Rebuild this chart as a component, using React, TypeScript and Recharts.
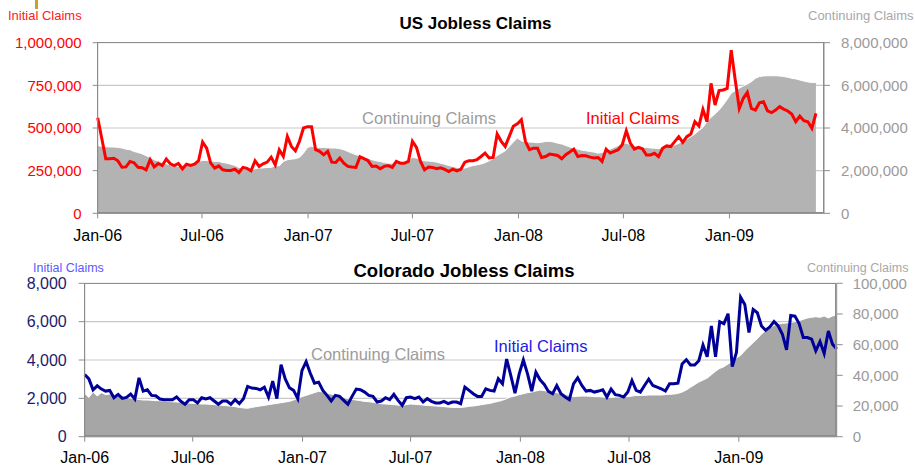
import React from 'react';
import { ComposedChart, Area, Line, XAxis, YAxis, CartesianGrid } from 'recharts';

const START = Date.UTC(2006, 0, 1);
const DAY = 86400000;

// month ticks on the date axis
const tickDates = ['2006-01-01', '2006-07-01', '2007-01-01', '2007-07-01', '2008-01-01', '2008-07-01', '2009-01-01'];
const tickLabels = ['Jan-06', 'Jul-06', 'Jan-07', 'Jul-07', 'Jan-08', 'Jul-08', 'Jan-09'];

// US initial claims, weekly from Jan-06, thousands
const usInitial = [
  560, 440, 320, 320, 323, 308, 270, 272, 304, 296,
  270, 267, 255, 314, 272, 292, 280, 318, 290, 280,
  292, 261, 288, 280, 288, 308, 418, 382, 294, 265,
  278, 255, 251, 251, 259, 239, 269, 263, 249, 308,
  275, 290, 300, 329, 284, 372, 333, 451, 392, 367,
  422, 500, 508, 508, 373, 363, 343, 363, 300, 298,
  324, 294, 275, 271, 269, 331, 320, 308, 275, 277,
  261, 275, 280, 269, 304, 294, 294, 304, 422, 386,
  304, 255, 271, 269, 261, 267, 257, 245, 259, 249,
  258, 300, 308, 308, 314, 333, 353, 324, 327, 465,
  422, 392, 451, 510, 524, 549, 422, 373, 382, 382,
  327, 333, 347, 343, 339, 320, 343, 359, 376, 333,
  339, 337, 329, 324, 327, 304, 376, 353, 363, 373,
  402, 484, 412, 376, 386, 378, 342, 342, 352, 332,
  381, 395, 391, 420, 449, 416, 449, 465, 537, 512,
  609, 537, 762, 635, 719, 723, 732, 957, 781, 615,
  674, 709, 615, 605, 648, 654, 600, 590, 605, 625,
  611, 600, 582, 537, 570, 543, 537, 498, 586,
];

// US continuing claims, weekly, millions
const usContinuing = [
  3.17, 3.14, 3.12, 3.11, 3.11, 3.09, 3.06, 3.01, 2.98, 2.9,
  2.85, 2.79, 2.7, 2.62, 2.51, 2.46, 2.38, 2.32, 2.27, 2.24,
  2.2, 2.2, 2.24, 2.27, 2.34, 2.43, 2.48, 2.48, 2.46, 2.43,
  2.43, 2.38, 2.35, 2.3, 2.24, 2.15, 2.09, 2.05, 2.02, 2.09,
  2.12, 2.13, 2.15, 2.15, 2.24, 2.22, 2.43, 2.51, 2.54, 2.56,
  2.62, 2.82, 3.09, 3.14, 3.09, 3.09, 3.09, 3.07, 3.06, 3.06,
  3.03, 2.98, 2.9, 2.82, 2.75, 2.7, 2.64, 2.59, 2.51, 2.46,
  2.43, 2.38, 2.35, 2.35, 2.38, 2.4, 2.43, 2.49, 2.62, 2.59,
  2.51, 2.46, 2.45, 2.43, 2.4, 2.35, 2.3, 2.24, 2.2, 2.15,
  2.12, 2.12, 2.18, 2.24, 2.27, 2.31, 2.37, 2.46, 2.56, 2.71,
  2.82, 2.93, 3.14, 3.34, 3.53, 3.4, 3.34, 3.34, 3.33, 3.31,
  3.33, 3.37, 3.37, 3.34, 3.29, 3.25, 3.18, 3.11, 3.06, 3.01,
  2.96, 2.93, 2.9, 2.87, 2.82, 2.85, 2.93, 3.01, 3.09, 3.18,
  3.29, 3.29, 3.22, 3.17, 3.14, 3.09, 3.09, 3.06, 3.05, 3.03,
  3.09, 3.13, 3.16, 3.2, 3.28, 3.39, 3.47, 3.59, 3.72, 3.88,
  4.03, 4.3, 4.5, 4.66, 4.84, 5.08, 5.34, 5.63, 5.75, 5.86,
  5.97, 6.06, 6.17, 6.33, 6.41, 6.44, 6.45, 6.45, 6.45, 6.44,
  6.41, 6.38, 6.33, 6.3, 6.25, 6.2, 6.16, 6.13, 6.13,
];

// Colorado initial claims, weekly
const coInitial = [
  3241, 3017, 2448, 2655, 2483, 2379, 2414, 2034, 2207, 2000,
  2052, 2224, 1965, 3069, 2379, 2448, 2155, 2138, 1965, 1931,
  1931, 1931, 2069, 1845, 1690, 1931, 1931, 1759, 2034, 1965,
  2034, 1862, 1690, 1862, 1862, 1690, 1931, 1724, 1983, 2621,
  2534, 2517, 2448, 2586, 2069, 2896, 1983, 3758, 3017, 2552,
  2414, 1983, 3448, 3913, 3310, 2793, 2845, 2414, 2155, 1862,
  2155, 2103, 1896, 1690, 2103, 2483, 2448, 2327, 2155, 2103,
  1810, 1862, 2034, 1931, 2207, 1896, 1638, 2034, 2069, 1983,
  2069, 1810, 1983, 1845, 1759, 1759, 1845, 1724, 1810, 1810,
  1724, 2586, 2414, 2241, 2103, 2103, 2500, 2414, 2379, 3017,
  2758, 4051, 3189, 2276, 3276, 4000, 3276, 2379, 3362, 2965,
  2724, 2362, 2241, 2672, 2241, 2069, 1931, 2758, 3069, 2672,
  2379, 2414, 2327, 2379, 2448, 2069, 2483, 2190, 2155, 2069,
  2327, 2931, 2414, 2327, 2672, 3000, 2672, 2586, 2500, 2379,
  2758, 2758, 2793, 3793, 4017, 3741, 3741, 3965, 4776, 4172,
  5775, 4172, 6000, 5896, 6413, 3655, 4396, 7275, 6896, 5431,
  6637, 6465, 5775, 5551, 5724, 6000, 5775, 5344, 4534, 6327,
  6293, 5896, 5172, 5172, 5086, 4482, 4965, 4344, 5517, 4827,
  4569,
];

// Colorado continuing claims, weekly, thousands
const coContinuing = [
  28.2, 25.6, 29.3, 26.5, 28.7, 27.4, 27.8, 26.1, 26.5, 25.6,
  25.6, 25.2, 24.8, 24.3, 23.9, 23.9, 23.7, 23.5, 23.5, 23.3,
  23.0, 22.8, 22.6, 22.4, 22.2, 21.9, 21.7, 21.5, 21.3, 21.3,
  21.1, 20.9, 20.6, 20.4, 20.2, 20.0, 19.6, 19.1, 18.7, 18.5,
  19.1, 19.6, 20.0, 20.4, 20.9, 21.3, 21.7, 22.2, 22.6, 23.0,
  23.9, 25.0, 26.1, 26.9, 27.8, 28.7, 29.6, 29.1, 28.2, 27.8,
  26.9, 26.1, 25.6, 24.8, 24.3, 23.9, 23.5, 23.0, 22.8, 22.4,
  21.9, 21.5, 21.3, 21.1, 20.9, 20.6, 20.4, 20.9, 21.3, 21.1,
  20.9, 20.6, 20.4, 20.2, 20.0, 19.8, 19.6, 19.3, 19.1, 19.1,
  19.1, 19.3, 19.8, 20.0, 20.4, 20.9, 21.3, 21.7, 22.4, 23.0,
  23.7, 24.8, 25.9, 26.5, 27.4, 28.0, 28.7, 29.1, 29.8, 30.4,
  30.0, 29.6, 29.1, 28.7, 28.0, 27.6, 26.9, 26.1, 26.3, 26.5,
  26.5, 26.3, 26.1, 26.1, 25.9, 25.6, 25.6, 25.9, 25.9, 26.1,
  26.1, 26.5, 26.9, 26.9, 26.9, 27.2, 27.2, 27.2, 27.2, 27.4,
  27.6, 27.8, 28.2, 29.1, 30.4, 32.2, 33.9, 35.6, 36.9, 38.2,
  40.4, 42.6, 44.5, 45.6, 47.4, 48.9, 51.3, 53.0, 56.1, 58.7,
  61.3, 63.9, 66.9, 69.1, 70.8, 72.6, 73.4, 73.9, 74.1, 74.5,
  75.0, 75.6, 76.5, 77.4, 77.8, 78.2, 77.8, 78.7, 77.4, 78.7,
  79.3,
];

const usLeftTicks = [0, 250000, 500000, 750000, 1000000];
const usRightTicks = [0, 2000000, 4000000, 6000000, 8000000];
const coLeftTicks = [0, 2000, 4000, 6000, 8000];
const coRightTicks = [0, 20000, 40000, 60000, 80000, 100000];

const dayTicks = tickDates.map((d) => (Date.parse(d) - START) / DAY);
const dayLabel = (v: number) => tickLabels[dayTicks.indexOf(v)] ?? '';
const fmt = (v: number) => v.toLocaleString('en-US');

const usData = usInitial.map((v, i) => ({ day: i * 7, initial: v * 1000, continuing: Math.round(usContinuing[i] * 1e6) }));
const coData = coInitial.map((v, i) => ({ day: i * 7, initial: v, continuing: Math.round(coContinuing[i] * 1000) }));

const FONT = '"Liberation Sans", Arial, Helvetica, sans-serif';
const AXIS = '#8c8c8c';

type TextProps = { x: number; cy: number; size: number; color: string; bold?: boolean; center?: boolean; children: React.ReactNode };
const Txt = ({ x, cy, size, color, bold, center, children }: TextProps) => (
  <div
    style={{
      position: 'absolute',
      left: x,
      top: cy - 0.49 * size,
      fontSize: size,
      lineHeight: `${size}px`,
      color,
      fontWeight: bold ? 'bold' : 'normal',
      whiteSpace: 'nowrap',
      transform: center ? 'translateX(-50%)' : undefined,
    }}
  >
    {children}
  </div>
);

const Frame = ({ left, top, right, bottom }: { left: number; top: number; right: number; bottom: number }) => (
  <div
    style={{
      position: 'absolute',
      left: left - 0.75,
      top: top - 0.75,
      width: right - left - 1.5,
      height: bottom - top - 1.5,
      border: `1.5px solid ${AXIS}`,
      pointerEvents: 'none',
    }}
  />
);

export default function App() {
  return (
    <div style={{ position: 'absolute', left: 0, top: 0, width: 915, height: 473, background: '#fff', fontFamily: FONT, overflow: 'hidden' }}>
      <div style={{ position: 'absolute', left: 35, top: 0, width: 3, height: 9, background: '#c9a227' }} />

      {/* US panel */}
      <div style={{ position: 'absolute', left: 0, top: 0 }}>
        <ComposedChart width={915} height={250} data={usData} margin={{ top: 42.7, right: 0, bottom: 0, left: 0 }}>
          <CartesianGrid yAxisId="left" vertical={false} stroke="#c8c8c8" strokeWidth={1.2} />
          <XAxis
            dataKey="day"
            type="number"
            domain={[0, 1260]}
            ticks={dayTicks}
            tickFormatter={dayLabel}
            height={36.7}
            tickSize={5}
            tickMargin={11}
            stroke={AXIS}
            tick={{ fill: '#000', fontSize: 16 }}
          />
          <YAxis
            yAxisId="left"
            domain={[0, 1000000]}
            ticks={usLeftTicks}
            tickFormatter={fmt}
            width={97.7}
            tickSize={5}
            tickMargin={11}
            stroke={AXIS}
            tick={{ fill: '#ff0000', fontSize: 15 }}
          />
          <YAxis
            yAxisId="right"
            orientation="right"
            domain={[0, 8000000]}
            ticks={usRightTicks}
            tickFormatter={fmt}
            width={91}
            tickSize={6}
            tickMargin={11}
            stroke={AXIS}
            tick={{ fill: '#9a9a9a', fontSize: 15 }}
          />
          <Area yAxisId="right" type="linear" dataKey="continuing" fill="#b3b3b3" fillOpacity={1} stroke="#ffffff" strokeWidth={1} isAnimationActive={false} />
          <Line yAxisId="left" type="linear" dataKey="initial" stroke="#ff0000" strokeWidth={3} dot={false} isAnimationActive={false} />
        </ComposedChart>
      </div>
      <Frame left={97.7} top={42.7} right={824} bottom={213.3} />

      {/* Colorado panel */}
      <div style={{ position: 'absolute', left: 0, top: 250 }}>
        <ComposedChart width={915} height={223} data={coData} margin={{ top: 33.3, right: 0, bottom: 0, left: 0 }}>
          <CartesianGrid yAxisId="left" vertical={false} stroke="#c8c8c8" strokeWidth={1.2} />
          <XAxis
            dataKey="day"
            type="number"
            domain={[0, 1260]}
            ticks={dayTicks}
            tickFormatter={dayLabel}
            height={36.3}
            tickSize={5}
            tickMargin={10}
            stroke={AXIS}
            tick={{ fill: '#000', fontSize: 16 }}
          />
          <YAxis
            yAxisId="left"
            domain={[0, 8000]}
            ticks={coLeftTicks}
            tickFormatter={fmt}
            width={84.7}
            tickSize={6}
            tickMargin={12}
            stroke={AXIS}
            tick={{ fill: '#1c1c6c', fontSize: 16 }}
          />
          <YAxis
            yAxisId="right"
            orientation="right"
            domain={[0, 100000]}
            ticks={coRightTicks}
            tickFormatter={fmt}
            width={78.3}
            tickSize={6}
            tickMargin={10}
            stroke={AXIS}
            tick={{ fill: '#9a9a9a', fontSize: 15 }}
          />
          <Area yAxisId="right" type="linear" dataKey="continuing" fill="#a6a6a6" fillOpacity={1} stroke="#ffffff" strokeWidth={1} isAnimationActive={false} />
          <Line yAxisId="left" type="linear" dataKey="initial" stroke="#000099" strokeWidth={3} dot={false} isAnimationActive={false} />
        </ComposedChart>
      </div>
      <Frame left={84.7} top={283.3} right={836.7} bottom={436.7} />

      {/* titles and labels */}
      <Txt x={475.5} cy={23.3} size={17} color="#000" bold center>US Jobless Claims</Txt>
      <Txt x={8} cy={15} size={13} color="#ff2020">Initial Claims</Txt>
      <Txt x={808} cy={15} size={13} color="#a8a8a8">Continuing Claims</Txt>
      <Txt x={362} cy={118.5} size={16.5} color="#9c9c9c">Continuing Claims</Txt>
      <Txt x={586} cy={118.5} size={16.5} color="#ff0000">Initial Claims</Txt>

      <Txt x={464} cy={271.5} size={18.5} color="#000" bold center>Colorado Jobless Claims</Txt>
      <Txt x={33} cy={268.5} size={12.5} color="#5a5aff">Initial Claims</Txt>
      <Txt x={807} cy={268} size={12.5} color="#a8a8a8">Continuing Claims</Txt>
      <Txt x={311} cy={354} size={16.5} color="#9c9c9c">Continuing Claims</Txt>
      <Txt x={494} cy={346.5} size={16.5} color="#2020e8">Initial Claims</Txt>
    </div>
  );
}
